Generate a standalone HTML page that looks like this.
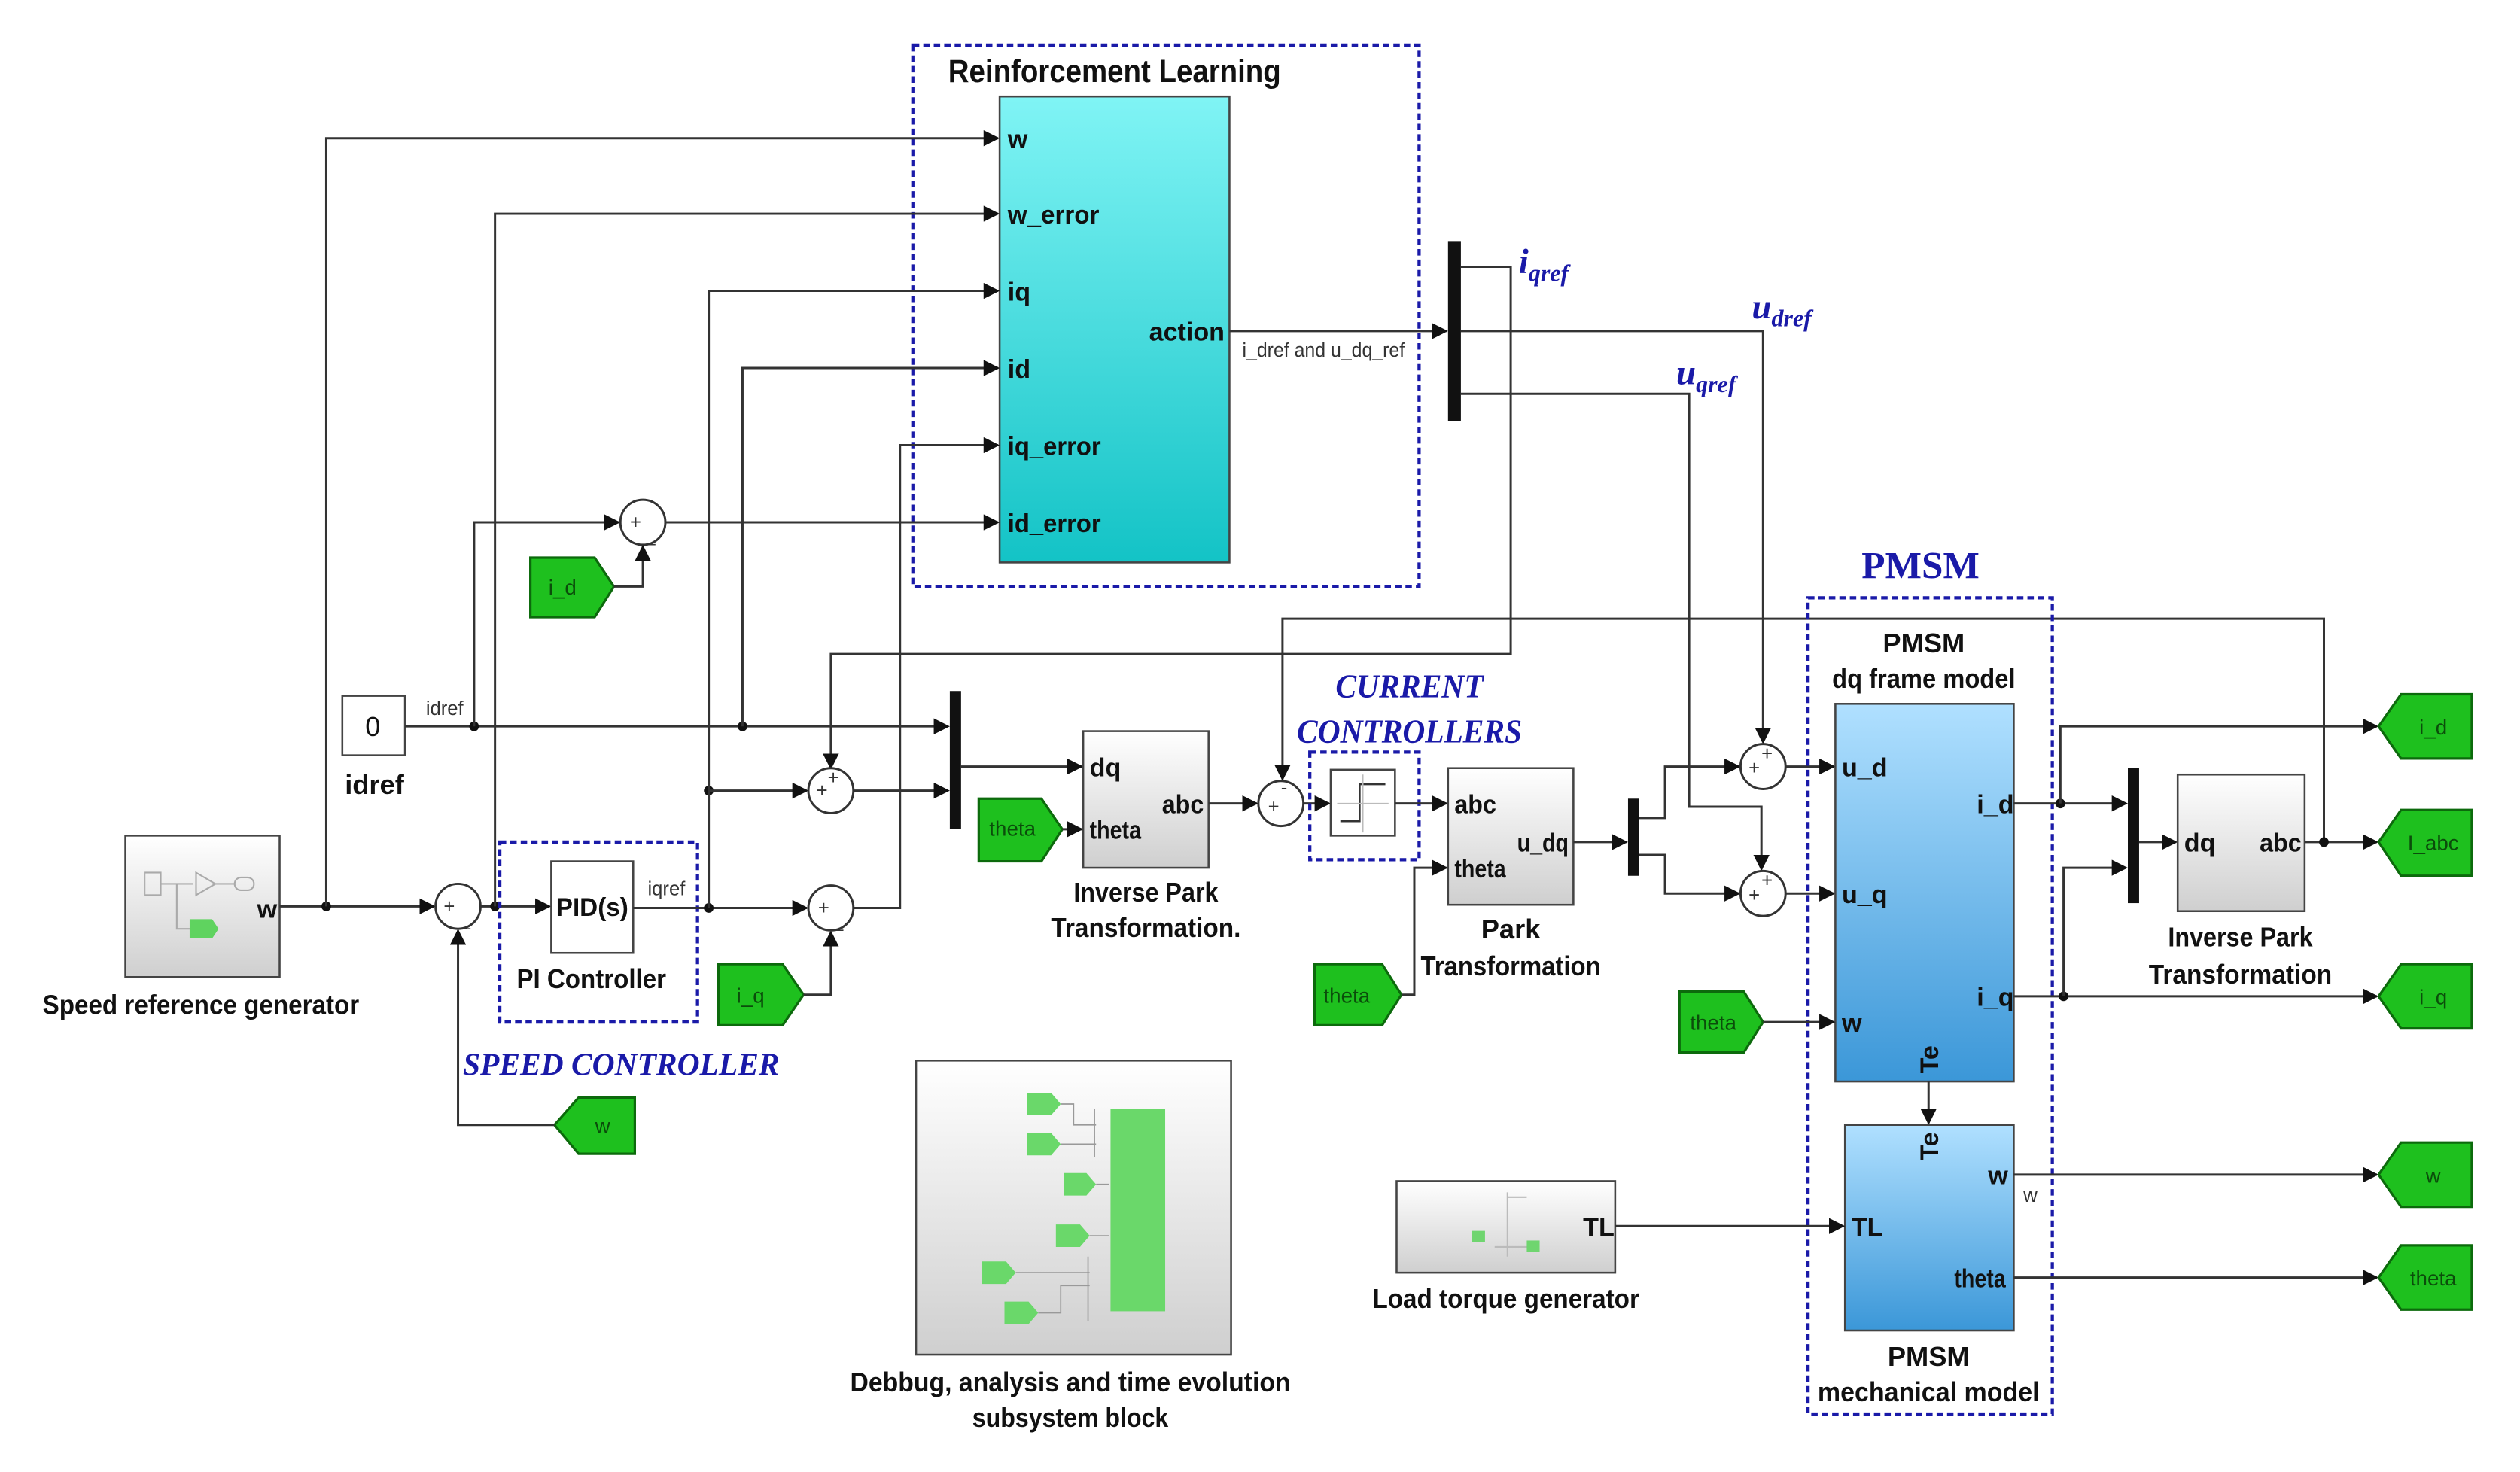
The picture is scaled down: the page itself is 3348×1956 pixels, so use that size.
<!DOCTYPE html>
<html><head><meta charset="utf-8">
<style>
html,body{margin:0;padding:0;background:#fff;}
svg{display:block;}
.l{fill:none;stroke:#333;stroke-width:1.4;}
.pl{font-family:"Liberation Sans Narrow","Liberation Sans",sans-serif;font-weight:bold;font-size:16px;fill:#111;}
.lb{font-family:"Liberation Sans Narrow","Liberation Sans",sans-serif;font-weight:bold;font-size:17px;fill:#111;text-anchor:middle;}
.sm{font-family:"Liberation Sans Narrow","Liberation Sans",sans-serif;font-size:12px;fill:#333;}
.bl{font-family:"Liberation Serif",serif;font-style:italic;font-weight:bold;fill:#1a1aa8;}
.tag{fill:#1ec01e;stroke:#0c6a0c;stroke-width:1.5;}
.tt{font-family:"Liberation Sans Narrow","Liberation Sans",sans-serif;font-size:13px;fill:#0b4d0b;text-anchor:middle;}
.dash{fill:none;stroke:#1a1aa8;stroke-width:2;stroke-dasharray:4,2.5;}
.blk{stroke:#444;stroke-width:1.2;}
.sum{fill:#fff;stroke:#333;stroke-width:1.4;}
.dot{fill:#111;}
</style></head>
<body>
<svg width="3348" height="1956" viewBox="0 0 1568 916" xmlns="http://www.w3.org/2000/svg">
<defs>
<marker id="a" markerWidth="10" markerHeight="10" refX="9" refY="5" orient="auto" markerUnits="userSpaceOnUse"><path d="M0,0 L10,5 L0,10 z" fill="#111"/></marker>
<linearGradient id="cy" x1="0" y1="0" x2="0" y2="1"><stop offset="0" stop-color="#80f4f5"/><stop offset="1" stop-color="#13c3c6"/></linearGradient>
<linearGradient id="bu" x1="0" y1="0" x2="0" y2="1"><stop offset="0" stop-color="#b0e0ff"/><stop offset="1" stop-color="#3b97d8"/></linearGradient>
<linearGradient id="gr" x1="0" y1="0" x2="0" y2="1"><stop offset="0" stop-color="#ffffff"/><stop offset="1" stop-color="#cfcfcf"/></linearGradient>
</defs>

<!-- RL -->
<rect x="568" y="28" width="315" height="337" class="dash"/>
<text x="590" y="51" textLength="207" lengthAdjust="spacingAndGlyphs" style="font-family:'Liberation Sans Narrow','Liberation Sans',sans-serif;font-weight:bold;font-size:20px;fill:#111">Reinforcement Learning</text>
<rect x="622" y="60" width="143" height="290" fill="url(#cy)" class="blk"/>
<text class="pl" x="627" y="92">w</text>
<text class="pl" x="627" y="139" textLength="57" lengthAdjust="spacingAndGlyphs">w_error</text>
<text class="pl" x="627" y="187">iq</text>
<text class="pl" x="627" y="235">id</text>
<text class="pl" x="627" y="283" textLength="58" lengthAdjust="spacingAndGlyphs">iq_error</text>
<text class="pl" x="627" y="331" textLength="58" lengthAdjust="spacingAndGlyphs">id_error</text>
<text class="pl" x="715" y="212" textLength="47" lengthAdjust="spacingAndGlyphs">action</text>
<path class="l" d="M765,206 H900" marker-end="url(#a)"/>
<text class="sm" x="773" y="222" textLength="101" lengthAdjust="spacingAndGlyphs">i_dref and u_dq_ref</text>
<rect x="901" y="150" width="8" height="112" fill="#111"/>
<text class="bl" x="945" y="170" font-size="22">i<tspan font-size="15" dy="5">qref</tspan></text>
<text class="bl" x="1090" y="198" font-size="22">u<tspan font-size="15" dy="5">dref</tspan></text>
<text class="bl" x="1043" y="239" font-size="22">u<tspan font-size="15" dy="5">qref</tspan></text>
<path class="l" d="M909,166 H940 V407 H517 V478" marker-end="url(#a)"/>
<path class="l" d="M909,206 H1097 V462" marker-end="url(#a)"/>
<path class="l" d="M909,245 H1051 V502 H1096 V541" marker-end="url(#a)"/>
<path class="l" d="M1446,524 V385 H798 V485" marker-end="url(#a)"/>

<!-- left -->
<rect x="78" y="520" width="96" height="88" fill="url(#gr)" class="blk"/>
<rect x="90" y="543" width="10" height="14" fill="none" stroke="#aaa"/>
<path d="M100,550 H120 M110,550 V578 H118 M122,543 L134,550 L122,557 z M134,550 H146" stroke="#aaa" fill="none"/>
<rect x="146" y="546" width="12" height="8" rx="4" fill="none" stroke="#aaa"/>
<path d="M118,572 H132 L136,578 L132,584 H118 z" fill="#5fd35f"/>
<text class="pl" x="160" y="571">w</text>
<text class="lb" x="125" y="631" textLength="197" lengthAdjust="spacingAndGlyphs">Speed reference generator</text>
<path class="l" d="M174,564 H270" marker-end="url(#a)"/>
<circle class="dot" cx="203" cy="564" r="3"/>
<path class="l" d="M203,564 V86 H621" marker-end="url(#a)"/>
<circle class="sum" cx="285" cy="564" r="14"/>
<text class="sm" x="276" y="568" font-size="10">+</text><text class="sm" x="286" y="576" font-size="10">_</text>
<path class="l" d="M299,564 H342" marker-end="url(#a)"/>
<circle class="dot" cx="308" cy="564" r="3"/>
<path class="l" d="M308,564 V133 H621" marker-end="url(#a)"/>
<rect x="311" y="524" width="123" height="112" class="dash"/>
<rect x="343" y="536" width="51" height="57" fill="#fff" class="blk"/>
<text class="pl" x="346" y="570" font-size="17" textLength="45" lengthAdjust="spacingAndGlyphs">PID(s)</text>
<text class="lb" x="368" y="615" textLength="93" lengthAdjust="spacingAndGlyphs">PI Controller</text>
<text class="sm" x="403" y="557">iqref</text>
<path class="l" d="M394,565 H502" marker-end="url(#a)"/>
<circle class="dot" cx="441" cy="565" r="3"/>
<circle class="dot" cx="441" cy="492" r="3"/>
<path class="l" d="M441,565 V181 H621" marker-end="url(#a)"/>
<path class="l" d="M441,492 H502" marker-end="url(#a)"/>
<text class="bl" x="288" y="669" font-size="20" textLength="197" lengthAdjust="spacingAndGlyphs">SPEED CONTROLLER</text>
<path class="tag" d="M395,683 V718 H360 L345,700 L360,683 z"/>
<text class="tt" x="375" y="705">w</text>
<path class="l" d="M345,700 H285 V579" marker-end="url(#a)"/>
<path class="tag" d="M447,600 H487 L500,619 L487,638 H447 z"/>
<text class="tt" x="467" y="624">i_q</text>
<path class="l" d="M500,619 H517 V580" marker-end="url(#a)"/>
<circle class="sum" cx="517" cy="565" r="14"/>
<text class="sm" x="509" y="569" font-size="10">+</text><text class="sm" x="518" y="577" font-size="10">_</text>
<path class="l" d="M531,565 H560 V277 H621" marker-end="url(#a)"/>
<circle class="sum" cx="517" cy="492" r="14"/>
<text class="sm" x="508" y="496" font-size="10">+</text><text class="sm" x="515" y="488" font-size="10">+</text>
<path class="l" d="M531,492 H590" marker-end="url(#a)"/>

<rect x="213" y="433" width="39" height="37" fill="#fff" class="blk"/>
<text class="lb" x="232" y="458" style="font-weight:normal">0</text>
<text class="lb" x="233" y="494">idref</text>
<text class="sm" x="265" y="445">idref</text>
<path class="l" d="M252,452 H590" marker-end="url(#a)"/>
<circle class="dot" cx="295" cy="452" r="3"/>
<circle class="dot" cx="462" cy="452" r="3"/>
<path class="l" d="M295,452 V325 H385" marker-end="url(#a)"/>
<path class="l" d="M462,452 V229 H621" marker-end="url(#a)"/>
<circle class="sum" cx="400" cy="325" r="14"/>
<text class="sm" x="392" y="329" font-size="10">+</text><text class="sm" x="401" y="337" font-size="10">_</text>
<path class="l" d="M414,325 H621" marker-end="url(#a)"/>
<path class="tag" d="M330,347 H370 L382,365 L370,384 H330 z"/>
<text class="tt" x="350" y="370">i_d</text>
<path class="l" d="M382,365 H400 V340" marker-end="url(#a)"/>

<rect x="591" y="430" width="7" height="86" fill="#111"/>
<path class="l" d="M598,477 H673" marker-end="url(#a)"/>
<rect x="674" y="455" width="78" height="85" fill="url(#gr)" class="blk"/>
<text class="pl" x="678" y="483">dq</text>
<text class="pl" x="678" y="522" textLength="32" lengthAdjust="spacingAndGlyphs">theta</text>
<text class="pl" x="723" y="506" textLength="26" lengthAdjust="spacingAndGlyphs">abc</text>
<text class="lb" x="713" y="561" textLength="90" lengthAdjust="spacingAndGlyphs">Inverse Park</text>
<text class="lb" x="713" y="583" textLength="118" lengthAdjust="spacingAndGlyphs">Transformation.</text>
<path class="tag" d="M609,497 H648 L661,516 L648,536 H609 z"/>
<text class="tt" x="630" y="520">theta</text>
<path class="l" d="M661,516 H673" marker-end="url(#a)"/>
<path class="l" d="M752,500 H782" marker-end="url(#a)"/>
<circle class="sum" cx="797" cy="500" r="14"/>
<text class="sm" x="789" y="506" font-size="10">+</text><text class="sm" x="797" y="494" font-size="10">-</text>
<path class="l" d="M811,500 H827" marker-end="url(#a)"/>
<rect x="815" y="468" width="68" height="67" class="dash"/>
<rect x="828" y="479" width="40" height="41" fill="#fff" class="blk"/>
<path d="M834,511 H846 V488 H862" stroke="#333" fill="none" stroke-width="1.2"/>
<path d="M832,500 H864 M848,482 V518" stroke="#bbb" stroke-width="0.8"/>
<path class="l" d="M868,500 H900" marker-end="url(#a)"/>
<text class="bl" x="877" y="434" font-size="21" text-anchor="middle" textLength="92" lengthAdjust="spacingAndGlyphs">CURRENT</text>
<text class="bl" x="877" y="462" font-size="21" text-anchor="middle" textLength="140" lengthAdjust="spacingAndGlyphs">CONTROLLERS</text>
<rect x="901" y="478" width="78" height="85" fill="url(#gr)" class="blk"/>
<text class="pl" x="905" y="506" textLength="26" lengthAdjust="spacingAndGlyphs">abc</text>
<text class="pl" x="905" y="546" textLength="32" lengthAdjust="spacingAndGlyphs">theta</text>
<text class="pl" x="944" y="530" textLength="32" lengthAdjust="spacingAndGlyphs">u_dq</text>
<text class="lb" x="940" y="584">Park</text>
<text class="lb" x="940" y="607" textLength="112" lengthAdjust="spacingAndGlyphs">Transformation</text>
<path class="tag" d="M818,600 H860 L872,619 L860,638 H818 z"/>
<text class="tt" x="838" y="624">theta</text>
<path class="l" d="M872,619 H880 V540 H900" marker-end="url(#a)"/>
<path class="l" d="M979,524 H1012" marker-end="url(#a)"/>
<rect x="1013" y="497" width="7" height="48" fill="#111"/>
<path class="l" d="M1020,509 H1036 V477 H1082" marker-end="url(#a)"/>
<path class="l" d="M1020,532 H1036 V556 H1082" marker-end="url(#a)"/>
<circle class="sum" cx="1097" cy="477" r="14"/>
<text class="sm" x="1088" y="482" font-size="10">+</text><text class="sm" x="1096" y="473" font-size="10">+</text>
<circle class="sum" cx="1097" cy="556" r="14"/>
<text class="sm" x="1088" y="561" font-size="10">+</text><text class="sm" x="1096" y="552" font-size="10">+</text>
<path class="l" d="M1111,477 H1141" marker-end="url(#a)"/>
<path class="l" d="M1111,556 H1141" marker-end="url(#a)"/>

<!-- PMSM -->
<rect x="1125" y="372" width="152" height="508" class="dash"/>
<text x="1195" y="360" text-anchor="middle" style="font-family:'Liberation Serif',serif;font-weight:bold;font-size:24px;fill:#1a1aa8">PMSM</text>
<text class="lb" x="1197" y="406">PMSM</text>
<text class="lb" x="1197" y="428" textLength="114" lengthAdjust="spacingAndGlyphs">dq frame model</text>
<rect x="1142" y="438" width="111" height="235" fill="url(#bu)" class="blk"/>
<text class="pl" x="1146" y="483">u_d</text>
<text class="pl" x="1146" y="562">u_q</text>
<text class="pl" x="1146" y="642">w</text>
<text class="pl" x="1230" y="506">i_d</text>
<text class="pl" x="1230" y="626">i_q</text>
<text class="pl" transform="translate(1206,668) rotate(-90)">Te</text>
<path class="tag" d="M1045,617 H1085 L1097,636 L1085,655 H1045 z"/>
<text class="tt" x="1066" y="641">theta</text>
<path class="l" d="M1097,636 H1141" marker-end="url(#a)"/>
<path class="l" d="M1200,673 V699" marker-end="url(#a)"/>
<rect x="1148" y="700" width="105" height="128" fill="url(#bu)" class="blk"/>
<text class="pl" transform="translate(1206,722) rotate(-90)">Te</text>
<text class="pl" x="1237" y="737">w</text>
<text class="pl" x="1152" y="769">TL</text>
<text class="pl" x="1216" y="801" textLength="32" lengthAdjust="spacingAndGlyphs">theta</text>
<text class="lb" x="1200" y="850">PMSM</text>
<text class="lb" x="1200" y="872" textLength="138" lengthAdjust="spacingAndGlyphs">mechanical model</text>
<rect x="869" y="735" width="136" height="57" fill="url(#gr)" class="blk"/>
<path d="M938,742 V782 M938,745 H950 M930,776 H956" stroke="#bbb" fill="none"/>
<rect x="916" y="766" width="8" height="7" fill="#6fd56f"/><rect x="950" y="772" width="8" height="7" fill="#6fd56f"/>
<text class="pl" x="985" y="769">TL</text>
<text class="lb" x="937" y="814" textLength="166" lengthAdjust="spacingAndGlyphs">Load torque generator</text>
<path class="l" d="M1005,763 H1147" marker-end="url(#a)"/>
<path class="l" d="M1253,731 H1479" marker-end="url(#a)"/>
<text class="sm" x="1259" y="748" font-size="10">w</text>
<path class="l" d="M1253,795 H1479" marker-end="url(#a)"/>

<path class="l" d="M1253,500 H1323" marker-end="url(#a)"/>
<circle class="dot" cx="1282" cy="500" r="3"/>
<path class="l" d="M1282,500 V452 H1479" marker-end="url(#a)"/>
<path class="l" d="M1253,620 H1479" marker-end="url(#a)"/>
<circle class="dot" cx="1284" cy="620" r="3"/>
<path class="l" d="M1284,620 V540 H1323" marker-end="url(#a)"/>
<rect x="1324" y="478" width="7" height="84" fill="#111"/>
<path class="l" d="M1331,524 H1354" marker-end="url(#a)"/>
<rect x="1355" y="482" width="79" height="85" fill="url(#gr)" class="blk"/>
<text class="pl" x="1359" y="530">dq</text>
<text class="pl" x="1406" y="530" textLength="26" lengthAdjust="spacingAndGlyphs">abc</text>
<text class="lb" x="1394" y="589" textLength="90" lengthAdjust="spacingAndGlyphs">Inverse Park</text>
<text class="lb" x="1394" y="612" textLength="114" lengthAdjust="spacingAndGlyphs">Transformation</text>
<path class="l" d="M1434,524 H1479" marker-end="url(#a)"/>
<circle class="dot" cx="1446" cy="524" r="3"/>

<g>
<path class="tag" d="M1538,432 V472 H1494 L1480,452 L1494,432 z"/><text class="tt" x="1514" y="457">i_d</text>
<path class="tag" d="M1538,504 V545 H1494 L1480,524 L1494,504 z"/><text class="tt" x="1514" y="529">I_abc</text>
<path class="tag" d="M1538,600 V640 H1494 L1480,620 L1494,600 z"/><text class="tt" x="1514" y="625">i_q</text>
<path class="tag" d="M1538,711 V751 H1494 L1480,731 L1494,711 z"/><text class="tt" x="1514" y="736">w</text>
<path class="tag" d="M1538,775 V815 H1494 L1480,795 L1494,775 z"/><text class="tt" x="1514" y="800">theta</text>
</g>

<!-- debug -->
<rect x="570" y="660" width="196" height="183" fill="url(#gr)" class="blk"/>
<rect x="691" y="690" width="34" height="126" fill="#6ad86a"/>
<path d="M639,680 H654 L660,687 L654,694 H639 z M639,705 H654 L660,712 L654,719 H639 z M662,730 H676 L682,737 L676,744 H662 z M657,762 H672 L678,769 L672,776 H657 z M611,785 H626 L632,792 L626,799 H611 z M625,810 H640 L646,817 L640,824 H625 z" fill="#6ad86a"/>
<path d="M660,687 H668 V700 H682 M660,712 H682 M682,737 H690 M678,769 H690 M632,792 H678 M646,817 H660 V800 H678 M681,690 V720 M677,782 V822" stroke="#999" fill="none" stroke-width="0.8"/>
<text class="lb" x="666" y="866" textLength="274" lengthAdjust="spacingAndGlyphs">Debbug, analysis and  time evolution</text>
<text class="lb" x="666" y="888" textLength="122" lengthAdjust="spacingAndGlyphs">subsystem block</text>
</svg>
</body></html>
